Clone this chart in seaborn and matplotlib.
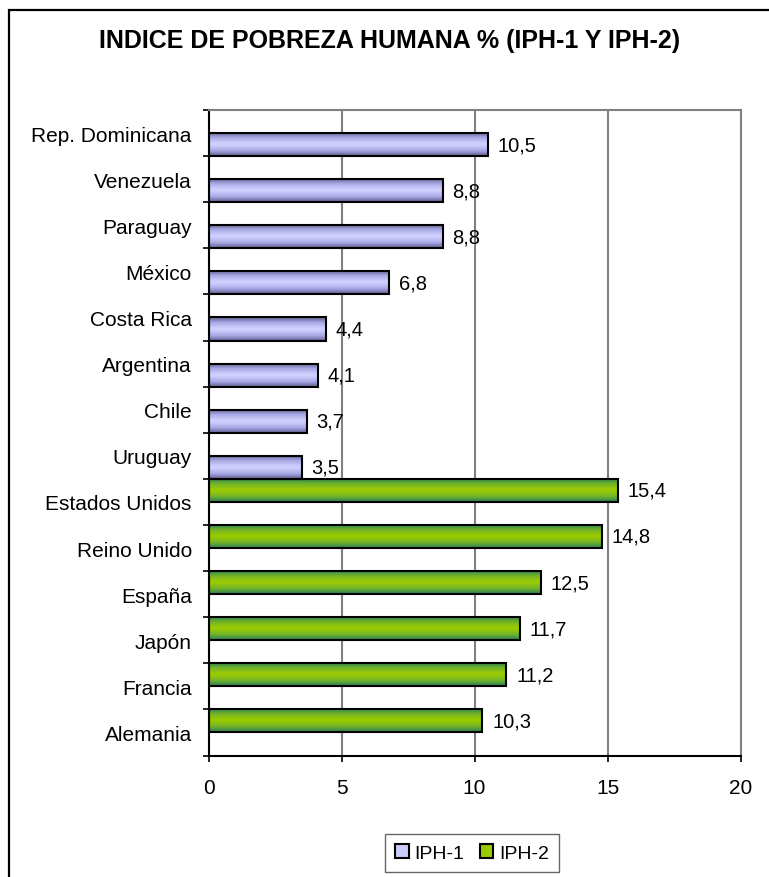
import numpy as np
import pandas as pd
import matplotlib.pyplot as plt
import seaborn as sns
from matplotlib.colors import LinearSegmentedColormap
from matplotlib.patches import Patch, Rectangle

# datos
paises = ['Rep. Dominicana', 'Venezuela', 'Paraguay', 'México', 'Costa Rica',
          'Argentina', 'Chile', 'Uruguay', 'Estados Unidos', 'Reino Unido',
          'España', 'Japón', 'Francia', 'Alemania']
valores = [10.5, 8.8, 8.8, 6.8, 4.4, 4.1, 3.7, 3.5, 15.4, 14.8, 12.5, 11.7, 11.2, 10.3]
indice = ['IPH-1'] * 8 + ['IPH-2'] * 6
x_ticks = [0, 5, 10, 15, 20]

df = pd.DataFrame({'pais': paises, 'valor': valores, 'indice': indice})

sns.set_style('white')
plt.rcParams['font.family'] = ['Liberation Sans', 'DejaVu Sans']
plt.rcParams['text.color'] = 'black'
plt.rcParams['xtick.color'] = 'black'
plt.rcParams['ytick.color'] = 'black'
plt.rcParams['axes.labelcolor'] = 'black'

fig = plt.figure(figsize=(7.69, 8.78), dpi=100)
ax = fig.add_axes([208.5 / 769, 1 - 756.5 / 878, 532 / 769, 645.5 / 878])

colores = {'IPH-1': '#ccccff', 'IPH-2': '#99cc00'}
ax = sns.barplot(data=df, x='valor', y='pais', hue='indice', order=paises,
                 hue_order=['IPH-2', 'IPH-1'], palette=colores, width=1.0, dodge=True,
                 orient='h', edgecolor='black', linewidth=1.5, legend=False, ax=ax)

# degradado tipo Excel dentro de cada barra
cmaps = {
    'IPH-1': LinearSegmentedColormap.from_list('l', ['#d2d2ff', '#aaaae6', '#5e5e8e']),
    'IPH-2': LinearSegmentedColormap.from_list('g', ['#9ccd00', '#72b22a', '#267f58']),
}
t = np.linspace(0, 1, 80)
grad = (np.abs(2 * t - 1) ** 1.1).reshape(-1, 1)
for cont, nivel in zip(ax.containers, ['IPH-2', 'IPH-1']):
    for bar in cont:
        w = bar.get_width()
        if not np.isfinite(w) or w <= 0:
            continue
        x0, y0 = bar.get_x(), bar.get_y()
        h = bar.get_height()
        im = ax.imshow(grad, cmap=cmaps[nivel], aspect='auto',
                       extent=[x0, x0 + w, y0 + h, y0], zorder=bar.get_zorder() - 0.01,
                       interpolation='bilinear')
        im.set_clip_path(bar)
        bar.set_facecolor('none')
    labels = []
    for bar in cont:
        w = bar.get_width()
        labels.append(f'{w:.1f}'.replace('.', ',') if np.isfinite(w) and w > 0 else '')
    ax.bar_label(cont, labels=labels, padding=7, fontsize=14.5, color='black')

n = len(paises)
ax.set_xlim(0, 20)
ax.set_ylim(n - 0.5, -0.5)
ax.set_xlabel('')
ax.set_ylabel('')

ax.set_xticks(x_ticks)
ax.set_xticklabels([str(v) for v in x_ticks], fontsize=15)
ax.tick_params(axis='x', direction='out', length=4, width=1.2, color='black', pad=12,
               bottom=True)

ax.set_yticks(np.arange(-0.5, n, 1))
ax.set_yticklabels([])
ax.set_yticks(range(n), minor=True)
ax.set_yticklabels(paises, minor=True, fontsize=15)
ax.tick_params(axis='y', which='major', direction='out', length=4.5, width=1.2,
               color='black', left=True)
ax.tick_params(axis='y', which='minor', length=0, pad=12)

ax.xaxis.grid(True, color='#808080', linewidth=1.5)
ax.yaxis.grid(False)
ax.set_axisbelow(True)
for s in ['left', 'bottom']:
    ax.spines[s].set_color('black')
    ax.spines[s].set_linewidth(1.5)
for s in ['top', 'right']:
    ax.spines[s].set_color('#808080')
    ax.spines[s].set_linewidth(1.5)

fig.text(390 / 769, 1 - 41 / 878, 'INDICE DE POBREZA HUMANA % (IPH-1 Y IPH-2)',
         ha='center', va='center', fontsize=18, fontweight='bold', color='black')

handles = [Patch(facecolor=colores['IPH-1'], edgecolor='black', linewidth=1.5, label='IPH-1'),
           Patch(facecolor=colores['IPH-2'], edgecolor='black', linewidth=1.5, label='IPH-2')]
leg = fig.legend(handles=handles, loc='center', bbox_to_anchor=(472 / 769, 1 - 854 / 878),
                 ncol=2, fontsize=14, frameon=True, fancybox=False, edgecolor='#404040',
                 handlelength=0.7, handleheight=0.7, handletextpad=0.3,
                 columnspacing=0.8, borderpad=0.5)
leg.get_frame().set_linewidth(1.0)

# marco exterior del grafico
fig.patches.append(Rectangle((9 / 769, -0.1), 1.2, 1 - 11 / 878 + 0.1, transform=fig.transFigure,
                             fill=False, edgecolor='black', linewidth=1.6))

fig.savefig('out.png', dpi=100)
